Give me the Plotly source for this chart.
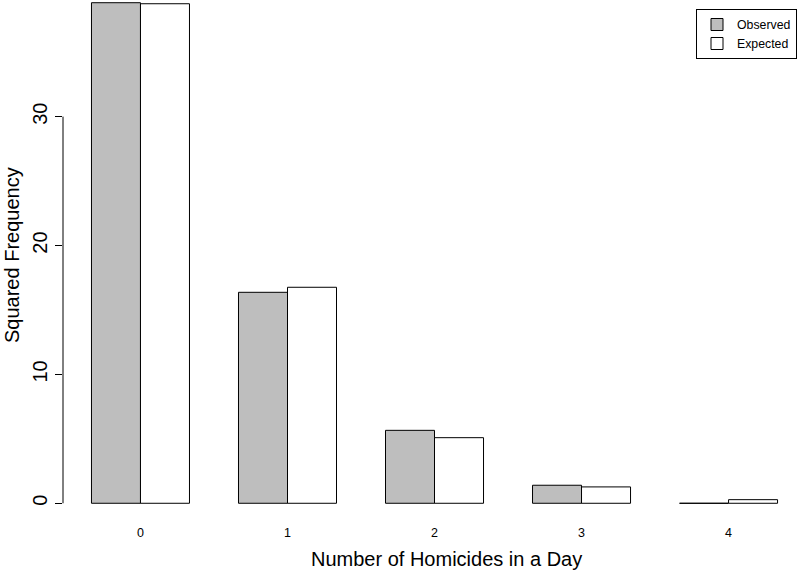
import plotly.graph_objects as go

categories = [0, 1, 2, 3, 4]
category_labels = ["0", "1", "2", "3", "4"]
observed = [38.84, 16.37, 5.66, 1.40, 0.0]
expected = [38.76, 16.76, 5.09, 1.27, 0.28]
y_ticks = [0, 10, 20, 30]
y_tick_labels = ["0", "10", "20", "30"]

FONT = "Liberation Sans, Arial, Helvetica, sans-serif"

fig = go.Figure()
fig.add_trace(go.Bar(
    x=categories, y=observed, name="Observed",
    marker=dict(color="#BEBEBE", line=dict(color="black", width=1)),
))
fig.add_trace(go.Bar(
    x=categories, y=expected, name="Expected",
    marker=dict(color="white", line=dict(color="black", width=1)),
))

fig.update_layout(
    width=800, height=573,
    margin=dict(l=63, r=0, t=0, b=50, autoexpand=False),
    paper_bgcolor="white", plot_bgcolor="white",
    font=dict(family=FONT, color="black"),
    barmode="group", bargap=1/3, bargroupgap=0,
    showlegend=True,
    legend=dict(
        x=(797 - 63) / 737, y=1 - 9 / 523, xanchor="right", yanchor="top",
        bordercolor="black", borderwidth=1,
        font=dict(size=12.3, color="black"),
        itemwidth=30, tracegroupgap=0,
    ),
    xaxis=dict(
        range=[-0.527, 4.486], tickvals=categories, ticktext=category_labels,
        showgrid=False, zeroline=False, showline=False, ticks="",
        tickfont=dict(size=12.5, color="black"), automargin=False,
    ),
    yaxis=dict(
        range=[-1.53, 39.05], tickvals=y_ticks, ticktext=y_tick_labels,
        showgrid=False, zeroline=False, showline=False,
        ticks="outside", ticklen=7, tickcolor="black", tickwidth=1,
        tickangle=-90, tickfont=dict(size=20, color="black"), automargin=False,
    ),
    shapes=[dict(
        type="line", xref="paper", yref="y",
        x0=0, x1=0, y0=min(y_ticks), y1=max(y_ticks),
        line=dict(color="black", width=1),
    )],
    annotations=[
        dict(text="Number of Homicides in a Day", xref="paper", yref="paper",
             x=(447 - 63) / 737, y=(523 - 559) / 523, xanchor="center", yanchor="middle",
             showarrow=False, font=dict(size=20, color="black")),
        dict(text="Squared Frequency", xref="paper", yref="paper",
             x=(12 - 63) / 737, y=(523 - 255) / 523, xanchor="center", yanchor="middle",
             textangle=-90, showarrow=False, font=dict(size=20, color="black")),
    ],
)

fig.write_html(
    "out.html",
    config={"displayModeBar": False},
    post_script="document.body.style.margin='0';document.body.style.overflow='hidden';",
)
